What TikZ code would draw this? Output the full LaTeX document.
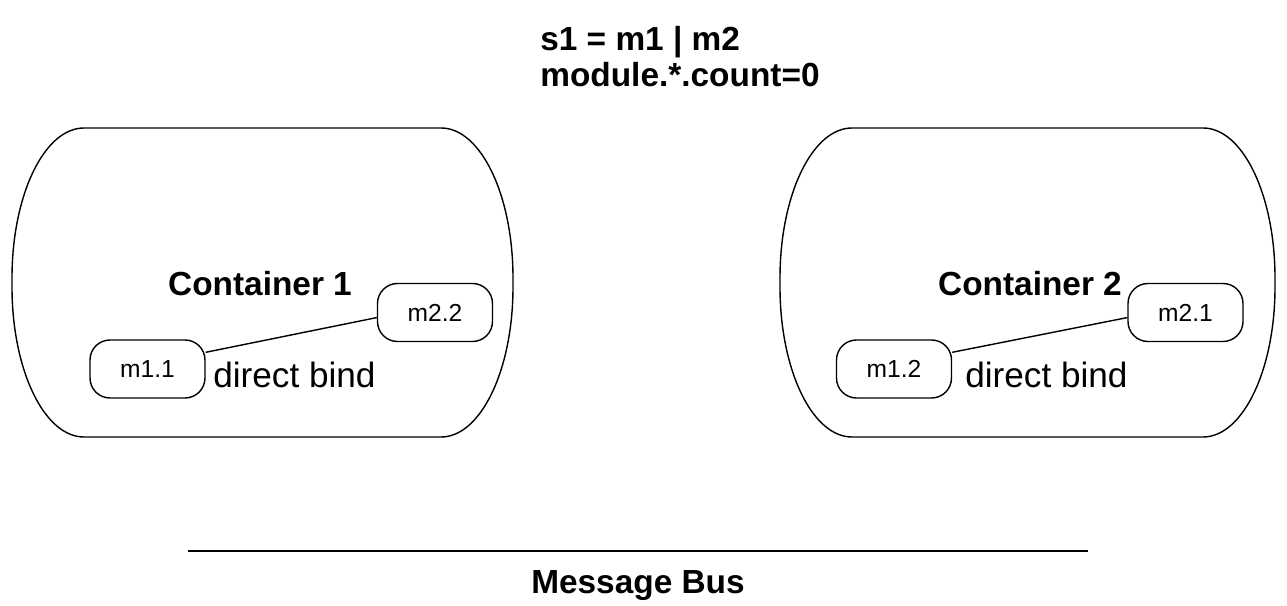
\documentclass[tikz,border=0pt]{standalone}
\usepackage{fontspec}
\setmainfont{Liberation Sans}
\usepackage{tikz}
\usetikzlibrary{positioning}

\begin{document}
\begin{tikzpicture}[
    container/.style={draw, line width=0.8pt},
    module/.style={draw, line width=0.8pt, rounded corners=0.4cm, minimum width=2.3cm, minimum height=1.16cm, inner sep=0pt, font=\fontsize{14}{16}\selectfont},
    heading/.style={inner sep=0pt, font=\fontsize{19}{23}\selectfont\bfseries},
    bindtext/.style={inner sep=0pt, font=\fontsize{20}{24}\selectfont}
]
\useasboundingbox (0,0) rectangle (25.74,12.12);

% Selector
\node[heading, anchor=base west] (rule) at (10.80,11.10) {s1 = m1 | m2};
\node[heading, anchor=base west] (count) at (10.80,10.38) {module.*.count=0};

% Containers
\draw[container] (1.68,9.56) -- (8.82,9.56) arc[start angle=90, end angle=0, x radius=1.44, y radius=3] -- (10.26,6.38) arc[start angle=0, end angle=-90, x radius=1.44, y radius=3] -- (1.68,3.38) arc[start angle=270, end angle=180, x radius=1.44, y radius=3] -- (0.24,6.56) arc[start angle=180, end angle=90, x radius=1.44, y radius=3] -- cycle;
\draw[container] (17.04,9.56) -- (24.06,9.56) arc[start angle=90, end angle=0, x radius=1.44, y radius=3] -- (25.50,6.38) arc[start angle=0, end angle=-90, x radius=1.44, y radius=3] -- (17.04,3.38) arc[start angle=270, end angle=180, x radius=1.44, y radius=3] -- (15.60,6.56) arc[start angle=180, end angle=90, x radius=1.44, y radius=3] -- cycle;

\node[heading, anchor=base] (c1) at (5.20,6.20) {Container 1};
\node[heading, anchor=base] (c2) at (20.60,6.20) {Container 2};

% Modules
\node[module] (m11) at (2.95,4.74) {m1.1};
\node[module] (m22) at (8.70,5.87) {m2.2};
\node[module] (m12) at (17.88,4.74) {m1.2};
\node[module] (m21) at (23.71,5.87) {m2.1};

\draw[line width=0.8pt] (m11.16) -- (m22.185);
\draw[line width=0.8pt] (m12.16) -- (m21.185);

\node[bindtext, anchor=base west] (bind1) at (4.26,4.36) {direct bind};
\node[bindtext, anchor=base west] (bind2) at (19.30,4.36) {direct bind};

% Bus
\coordinate (busl) at (3.76,1.10);
\coordinate (busr) at (21.76,1.10);
\draw[line width=1.1pt] (busl) -- (busr);
\node[heading, anchor=base] (bus) at (12.76,0.26) {Message Bus};

\end{tikzpicture}
\end{document}
